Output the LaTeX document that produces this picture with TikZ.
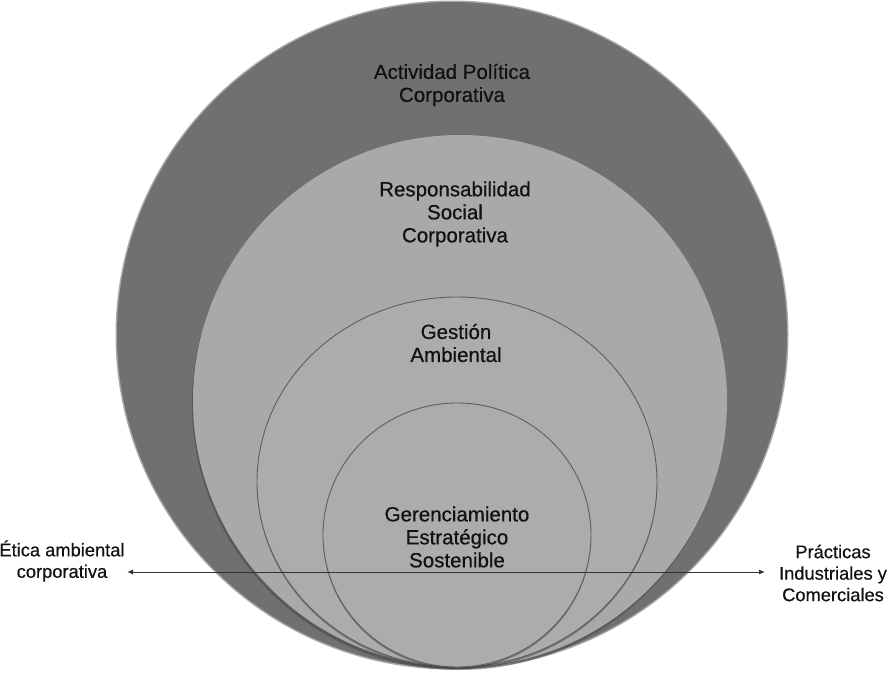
\documentclass[tikz,border=0pt]{standalone}
\usepackage{fontspec}
\setmainfont{Liberation Sans}[RawFeature={embolden=0.5}]
\usetikzlibrary{arrows.meta}
\definecolor{outerg}{HTML}{707070}
\definecolor{lightg}{HTML}{A9A9A9}
\definecolor{innerg}{HTML}{ACACAC}
\definecolor{edgeg}{HTML}{5E5E5E}
\definecolor{shadowg}{HTML}{3C3C3C}
\definecolor{txt}{HTML}{111111}
\begin{document}
\begin{tikzpicture}[x=1pt,y=-1pt,
  lbl/.style={font=\fontsize{20.5}{23}\selectfont, align=center, text=txt, inner sep=0pt},
  side/.style={font=\fontsize{18.3}{21.5}\selectfont, align=center, text=txt, inner sep=0pt},
  arr/.style={draw=black!80, line width=1pt, {Latex[length=6pt,width=5pt]}-{Latex[length=6pt,width=5pt]}},
  shade/.style={fill=shadowg, opacity=0.45},
  ring/.style={fill=innerg, draw=edgeg, line width=0.9pt}]
\useasboundingbox (0,0) rectangle (888,675);
% outer circle with soft edge
\fill[outerg!60] (452,335) ellipse [x radius=336.5pt, y radius=334.5pt];
\fill[outerg] (452,335) ellipse [x radius=335pt, y radius=333pt];
% second circle
\fill[shade] (459,404) ellipse [x radius=267pt, y radius=266pt];
\fill[lightg] (460,401) ellipse [x radius=267pt, y radius=266pt];
% third circle
\fill[shade] (457,484) ellipse [x radius=200pt, y radius=185pt];
\path[ring] (457,482) ellipse [x radius=200pt, y radius=185pt];
% fourth circle
\fill[shade] (457,537) ellipse [x radius=134pt, y radius=132pt];
\path[ring] (457,535) ellipse [x radius=134pt, y radius=132pt];
% labels
\node[lbl] (act) at (452,85) {Actividad Política\\Corporativa};
\node[lbl] (rsc) at (455,214) {Responsabilidad\\Social\\Corporativa};
\node[lbl] (gest) at (456,343) {Gestión\\Ambiental};
\node[lbl] (ger) at (457,537) {Gerenciamiento\\Estratégico\\Sostenible};
\node[side] (etica) at (62,561) {Ética ambiental\\corporativa};
\node[side] (prac) at (833,573) {Prácticas\\Industriales y\\Comerciales};
\coordinate (aL) at (127,572);
\coordinate (aR) at (765,572);
\draw[arr] (aL) -- (aR);
\end{tikzpicture}
\end{document}
